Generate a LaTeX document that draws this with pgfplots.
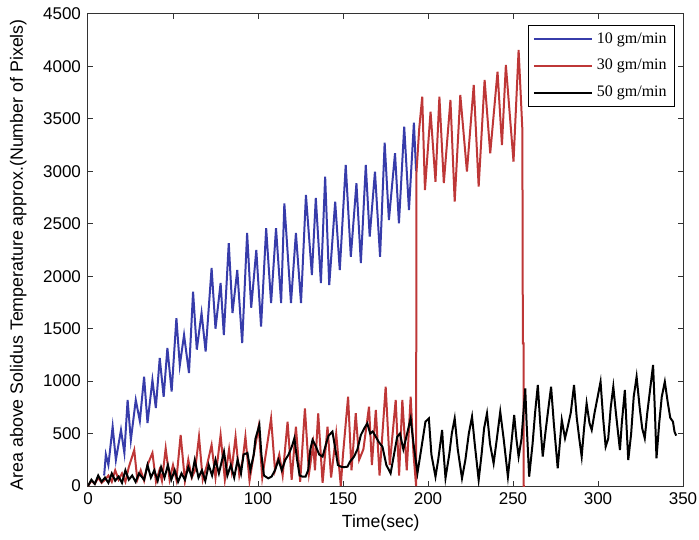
\documentclass[border=0pt]{standalone}
\usepackage{fontspec}
\setmainfont{Liberation Sans}
\newfontfamily\legfont{Liberation Serif}
\usepackage{pgfplots}
\pgfplotsset{compat=1.18}

\definecolor{matblue}{RGB}{55,60,170}
\definecolor{matred}{RGB}{190,55,55}

\begin{document}
\begin{tikzpicture}
\useasboundingbox (-44pt,-26.5pt) rectangle (305.5pt,243pt);
\begin{axis}[
  scale only axis,
  width=297.5pt, height=236pt,
  xmin=0, xmax=350, ymin=0, ymax=4500,
  xtick={0,50,...,350}, ytick={0,500,...,4500},
  tick align=inside,
  major tick length=2.5pt,
  axis line style={line width=0.5pt, black!80},
  every tick/.style={black!80, line width=0.5pt},
  /pgf/number format/assume math mode=true,
  /pgf/number format/1000 sep={},
  tick label style={font=\fontsize{8.5}{10}\selectfont},
  xlabel={Time(sec)},
  ylabel={Area above Solidus Temperature approx.(Number of Pixels)},
  every axis x label/.style={at={(axis description cs:0.492,-0.078)}, anchor=center,
    font=\fontsize{8.8}{10}\selectfont},
  every axis y label/.style={at={(axis description cs:-0.117,0.49)}, anchor=center, rotate=90,
    font=\fontsize{8.9}{10}\selectfont},
  legend style={at={(rel axis cs:0.987,0.977)}, anchor=north east,
    font=\legfont\fontsize{8}{9.6}\selectfont, draw=black, line width=0.6pt,
    inner xsep=2pt, inner ysep=1.5pt, row sep=2.5pt, cells={anchor=west}},
  legend image code/.code={\draw[#1] (0pt,0pt) -- (29pt,0pt);},
]
% 10 gm/min
\addplot[matblue, line width=1pt] coordinates {
(9.5,100) (10.5,300) (12,200) (14.5,566) (16.4,248) (19.4,534) (21.4,315)
(23.3,820) (25.2,438) (28.1,820) (30.5,620) (33,1042) (35,600) (37.9,1010)
(39.9,744) (42.2,1220) (44.5,850) (46.7,1316) (49.2,900) (52,1601) (54,1150)
(56.5,1440) (59.4,1077) (61.8,1852) (64,1300) (66.8,1649) (69.2,1281)
(72.7,2078) (75,1500) (78,1935) (79.9,1440) (82.8,2316) (85,1650) (87.8,2059)
(90.7,1363) (93.6,2412) (96,1700) (99,2250) (101.8,1519) (104.8,2457)
(107.7,1745) (110.6,2457) (113.6,1745) (115.5,2695) (119.4,1745) (122.3,2412)
(125.3,1745) (128.2,2774) (131.7,2012) (134,2746) (137,1935) (139.5,2949)
(141.9,1916) (145.4,2711) (148.1,2059) (151.6,3060) (154.6,2186) (157.9,2886)
(160.5,2126) (163.4,3060) (165.7,2377) (168.8,2997) (171.8,2186) (174.5,3273)
(177,2536) (180.6,3172) (182.9,2504) (186,3426) (188.8,2631) (191.7,3464)
(193,3000)
};
\addlegendentry{10 gm/min}
% 30 gm/min
\addplot[matred, line width=1pt] coordinates {
(0,0) (2,50) (4,20) (6,80) (8,30) (10,60) (12,100) (14,40) (16,150) (18,60)
(20,120) (22,40) (24,180) (27.2,343) (29,60) (31,150) (33,50) (35,200)
(37.9,315) (40,40) (42,150) (43.5,50) (45.7,359) (48,60) (50,200) (52,60)
(54.5,486) (57,50) (59,250) (61,80) (63,150) (65.3,470) (67.5,60) (70,200)
(72.7,391) (75,80) (78,486) (80.5,60) (83,350) (84.5,150) (86.8,470) (89,100)
(91,250) (92.6,470) (95,50) (97.5,300) (100.4,566) (102.5,80) (105,350)
(107.7,645) (110,150) (112.5,300) (114.5,100) (117.4,613) (119.8,60)
(122.3,566) (124.8,40) (127.6,740) (130,120) (132.5,400) (133.5,150)
(135.4,693) (138,30) (140.9,566) (143,80) (146,500) (148.7,0) (150,300)
(153,851) (155,150) (157.5,693) (159.5,250) (162,350) (165.3,756) (167,200)
(169.3,725) (171.5,100) (175.1,947) (177.5,200) (181,820) (183,100)
(184.9,820) (187.5,150) (189.8,851) (191.5,300) (193,0)
(193.2,2984) (194.8,3400) (196.6,3712) (198.2,2822) (201.5,3569) (204.4,2901)
(206.7,3712) (209.3,2888) (213.2,3680) (215.7,2711) (219,3728) (222.9,2997)
(226.9,3823) (229.8,2854) (233.3,3871) (236.6,3172) (240.9,3950) (243.5,3251)
(245.8,4014) (250.3,3092) (253.3,4157) (255.5,3400) (255.8,1360) (256.2,1360)
(256.3,0) (257,0)
};
\addlegendentry{30 gm/min}
% 50 gm/min
\addplot[black, line width=1pt] coordinates {
(0,0) (2,60) (4,20) (6,100) (8,40) (10,80) (12,30) (14,120) (16,50) (18,90)
(20,30) (22,150) (24,60) (26,100) (28,40) (30,120) (33,60) (35,200) (37,80)
(39,150) (41,50) (43,180) (45,80) (47,200) (49,60) (51,150) (53,40) (55,120)
(57,60) (59,180) (61,90) (62.8,248) (65,80) (67,150) (69,50) (71,200) (73,100)
(75,250) (77,120) (80,327) (82,100) (84,200) (86,80) (88,250) (90,120)
(91.5,300) (93.8,315) (95.5,150) (97.5,300) (98.5,450) (100.8,582) (102,300)
(103.5,100) (106,73) (108,90) (110,150) (112,250) (114,150) (116,248)
(118,300) (120,380) (121.4,455) (123,250) (124.5,100) (126.2,89) (128,90)
(129.5,150) (130.8,350) (132.1,439) (134,380) (136,300) (138,280) (140,400)
(141.5,480) (143.8,518) (145.5,350) (147,200) (148.7,184) (150.5,180)
(152.6,184) (154,230) (156.5,280) (158.5,350) (160.5,486) (162.5,550)
(164.3,597) (166,500) (167.5,520) (169.3,470) (171,420) (173.2,375)
(175.5,200) (178,121) (180,300) (181.9,470) (183.5,500) (185.5,350) (187,450)
(189.8,645) (191.5,400) (193.8,124) (196,350) (198.5,613) (200.5,645)
(202,300) (204.4,89) (206,250) (208.3,534) (209,350) (210.3,76) (212.5,300)
(214,500) (215.7,645) (217.5,350) (220,73) (222,250) (224,500) (225.9,661)
(227.5,400) (229.8,57) (231.5,300) (233,550) (234.7,693) (236.5,400)
(238.6,216) (240.5,450) (242.5,708) (244.5,450) (247,89) (249,400)
(250.7,677) (252,450) (253.3,280) (255,450) (257.2,931) (258,600) (259.5,89)
(261.5,400) (263,700) (264.6,963) (266,600) (267.5,280) (269,500) (270.5,700)
(272.4,947) (274,600) (276.3,169) (277.5,400) (278.7,629) (280.6,455)
(282,550) (284,700) (285.9,963) (287.5,650) (289,450) (290.4,280) (291.8,550)
(293.3,788) (295,600) (296.3,534) (298,700) (299.8,850) (301.5,994) (303,650)
(304.5,375) (306,450) (307.5,750) (309,947) (310.5,700) (312.9,343) (314,600)
(315.8,915) (317,500) (317.8,248) (319.5,500) (321,850) (322.7,1042)
(324.5,750) (326,550) (327.5,455) (329,700) (330.5,900) (332.4,1154)
(333.5,700) (334.4,264) (336,600) (337.5,850) (339.3,994) (341,800)
(342.5,650) (344.1,613) (345,518) (346,480)
};
\addlegendentry{50 gm/min}
\end{axis}
\end{tikzpicture}
\end{document}
